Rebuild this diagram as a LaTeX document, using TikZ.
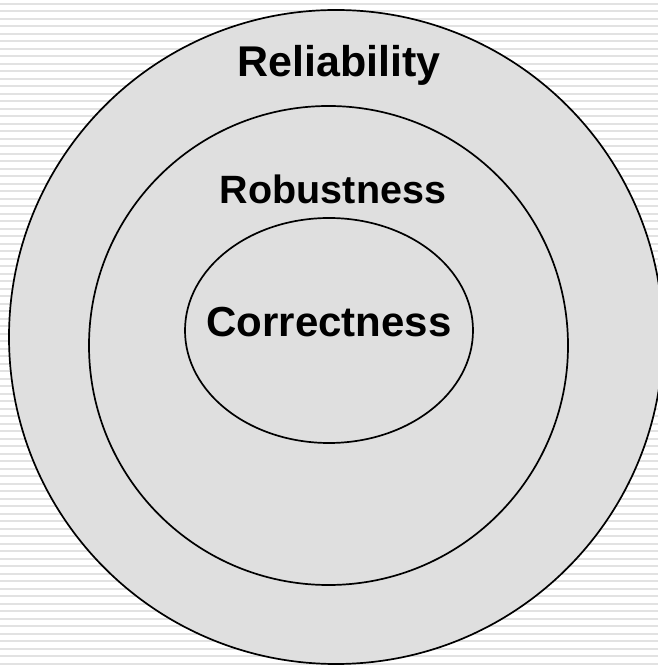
\documentclass[tikz,border=0pt]{standalone}
\usepackage{fontspec}
\setmainfont{Liberation Sans}
\definecolor{stripe}{HTML}{E2E2E2}
\definecolor{disc}{HTML}{DFDFDF}
\begin{document}
\begin{tikzpicture}[x=1pt,y=1pt,
  ring/.style={draw=black,line width=1.7pt,fill=disc},
  lbl/.style={anchor=base,inner sep=0pt,font=\bfseries}]
\useasboundingbox (0,0) rectangle (658,667);
\clip (0,0) rectangle (658,667);
\fill[white] (0,0) rectangle (658,667);
\foreach \k in {0,...,89} {
  \fill[stripe] (0,{667-3-7.5*\k}) rectangle (658,{667-5-7.5*\k});
}
\draw[ring] (336,330) circle[radius=327];
\draw[ring] (328.5,321.5) circle[radius=239.5];
\draw[ring] (329,336.5) ellipse[x radius=144,y radius=112.5];
\node[lbl,font=\fontsize{43}{43}\selectfont\bfseries] (rel) at (339,590) {Reliability};
\node[lbl,font=\fontsize{39.5}{39.5}\selectfont\bfseries] (rob) at (333,463) {Robustness};
\node[lbl,font=\fontsize{42}{42}\selectfont\bfseries] (cor) at (329,330) {Correctness};
\end{tikzpicture}
\end{document}
